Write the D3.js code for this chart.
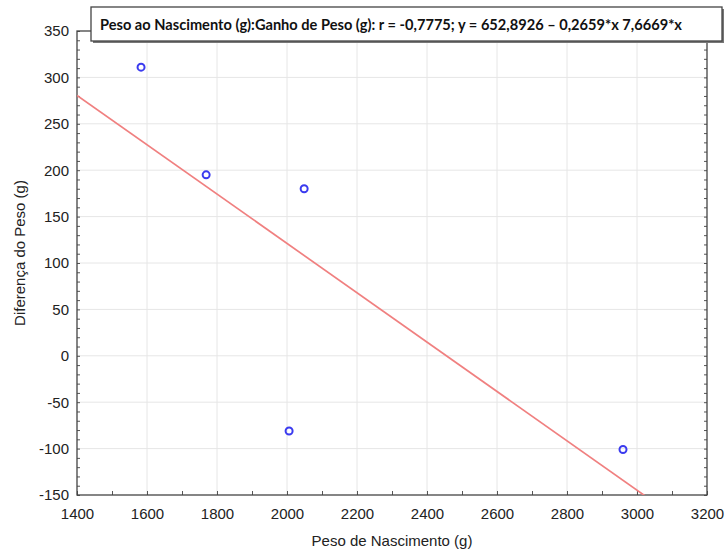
<!DOCTYPE html>
<html>
<head>
<meta charset="utf-8">
<script src="https://cdn.jsdelivr.net/npm/d3@7"></script>
<style>
  body { margin: 0; background: #fff; }
  svg { display: block; }
</style>
</head>
<body>
<div id="chart"></div>
<script>
// data
let pesoNascimento = [1583, 1769, 2049, 2006, 2960];
let diferencaPeso = [311, 195, 180, -81, -101];
let xTicks = [1400, 1600, 1800, 2000, 2200, 2400, 2600, 2800, 3000, 3200];
let yTicks = [-150, -100, -50, 0, 50, 100, 150, 200, 250, 300, 350];
let regressao = [652.8926, -0.2659]; // intercept, slope
let titulo = "Peso ao Nascimento (g):Ganho de Peso (g): r = -0,7775; y = 652,8926 \u2013 0,2659*x 7,6669*x";

let w = 726, h = 553;
let m = {top: 31, right: 19, bottom: 58, left: 77};

let svg = d3.select("#chart")
  .append("svg")
  .attr("width", w)
  .attr("height", h);

let x = d3.scaleLinear().domain([1400, 3200]).range([m.left, w - m.right]);
let y = d3.scaleLinear().domain([-150, 350]).range([h - m.bottom, m.top]);

// plain hyphen minus like the original
let fmt = (d) => String(d);

// clip for the regression line
svg.append("clipPath").attr("id", "plot")
  .append("rect")
  .attr("x", x(1400)).attr("y", y(350))
  .attr("width", x(3200) - x(1400)).attr("height", y(-150) - y(350));

// grid
svg.append("g").selectAll("line")
  .data(xTicks.slice(1, -1))
  .enter().append("line")
  .attr("x1", (d) => x(d)).attr("x2", (d) => x(d))
  .attr("y1", y(350)).attr("y2", y(-150))
  .style("stroke", "#e6e6e6");

svg.append("g").selectAll("line")
  .data(yTicks.slice(1, -1))
  .enter().append("line")
  .attr("x1", x(1400)).attr("x2", x(3200))
  .attr("y1", (d) => y(d)).attr("y2", (d) => y(d))
  .style("stroke", "#e6e6e6");

// axes (ticks inside)
let xMinor = d3.range(1400, 3201, 100);
let yMinor = d3.range(-150, 351, 10);

let axisColor = "#555";

let bottom = svg.append("g")
  .attr("transform", "translate(0," + y(-150) + ")")
  .call(d3.axisBottom(x).tickValues(xMinor).tickSize(-4).tickFormat(""));
bottom.select(".domain").remove();
bottom.selectAll("line").style("stroke", axisColor);

let bottomLab = svg.append("g")
  .attr("transform", "translate(0," + y(-150) + ")")
  .call(d3.axisBottom(x).tickValues(xTicks).tickSize(0).tickPadding(13).tickFormat(fmt));
bottomLab.select(".domain").remove();
bottomLab.selectAll("text")
  .style("font-family", "Liberation Sans, Arial, sans-serif")
  .style("font-size", "15px")
  .style("fill", "#222");

let left = svg.append("g")
  .attr("transform", "translate(" + x(1400) + ",0)")
  .call(d3.axisLeft(y).tickValues(yMinor).tickSize(-3).tickFormat(""));
left.select(".domain").remove();
left.selectAll("line").style("stroke", axisColor);

let leftLab = svg.append("g")
  .attr("transform", "translate(" + x(1400) + ",0)")
  .call(d3.axisLeft(y).tickValues(yTicks).tickSize(0).tickPadding(8).tickFormat(fmt));
leftLab.select(".domain").remove();
leftLab.selectAll("text")
  .style("font-family", "Liberation Sans, Arial, sans-serif")
  .style("font-size", "15px")
  .style("fill", "#222");

let right = svg.append("g")
  .attr("transform", "translate(" + x(3200) + ",0)")
  .call(d3.axisRight(y).tickValues(yMinor).tickSize(-3).tickFormat(""));
right.select(".domain").remove();
right.selectAll("line").style("stroke", axisColor);

// frame
svg.append("rect")
  .attr("x", x(1400)).attr("y", y(350))
  .attr("width", x(3200) - x(1400)).attr("height", y(-150) - y(350))
  .style("fill", "none")
  .style("stroke", "#444")
  .style("stroke-width", 1.3);

// regression line
let linha = d3.line()
  .x((d) => x(d))
  .y((d) => y(regressao[0] + regressao[1] * d));

svg.append("path")
  .datum([1400, 3200])
  .attr("clip-path", "url(#plot)")
  .attr("d", linha)
  .style("fill", "none")
  .style("stroke", "#f08080")
  .style("stroke-width", 1.7);

// points
svg.append("g").selectAll("circle")
  .data(pesoNascimento)
  .enter().append("circle")
  .attr("cx", (d) => x(d))
  .attr("cy", (d, i) => y(diferencaPeso[i]))
  .attr("r", 3.5)
  .style("fill", "none")
  .style("stroke", "#3b3bef")
  .style("stroke-width", 2);

// axis titles
svg.append("text")
  .attr("x", (x(1400) + x(3200)) / 2)
  .attr("y", 546)
  .attr("text-anchor", "middle")
  .style("font-family", "Liberation Sans, Arial, sans-serif")
  .style("font-size", "15px")
  .style("fill", "#222")
  .text("Peso de Nascimento (g)");

svg.append("text")
  .attr("transform", "translate(25," + ((y(350) + y(-150)) / 2 - 10) + ") rotate(-90)")
  .attr("text-anchor", "middle")
  .style("font-family", "Liberation Sans, Arial, sans-serif")
  .style("font-size", "15px")
  .style("fill", "#222")
  .text("Diferença do Peso (g)");

// title box
let bx = 91, by = 7, bw = 631, bh = 34;
svg.append("rect")
  .attr("x", bx + 2).attr("y", by + 2)
  .attr("width", bw).attr("height", bh)
  .style("fill", "#777");
svg.append("rect")
  .attr("x", bx).attr("y", by)
  .attr("width", bw).attr("height", bh)
  .style("fill", "#fff")
  .style("stroke", "#444")
  .style("stroke-width", 1.3);
svg.append("text")
  .attr("x", 100)
  .attr("y", by + 23)
  .attr("textLength", 582)
  .attr("lengthAdjust", "spacingAndGlyphs")
  .style("font-family", "Lato, Open Sans, sans-serif")
  .style("font-weight", "bold")
  .style("font-size", "15px")
  .style("fill", "#111")
  .text(titulo);
</script>
</body>
</html>
